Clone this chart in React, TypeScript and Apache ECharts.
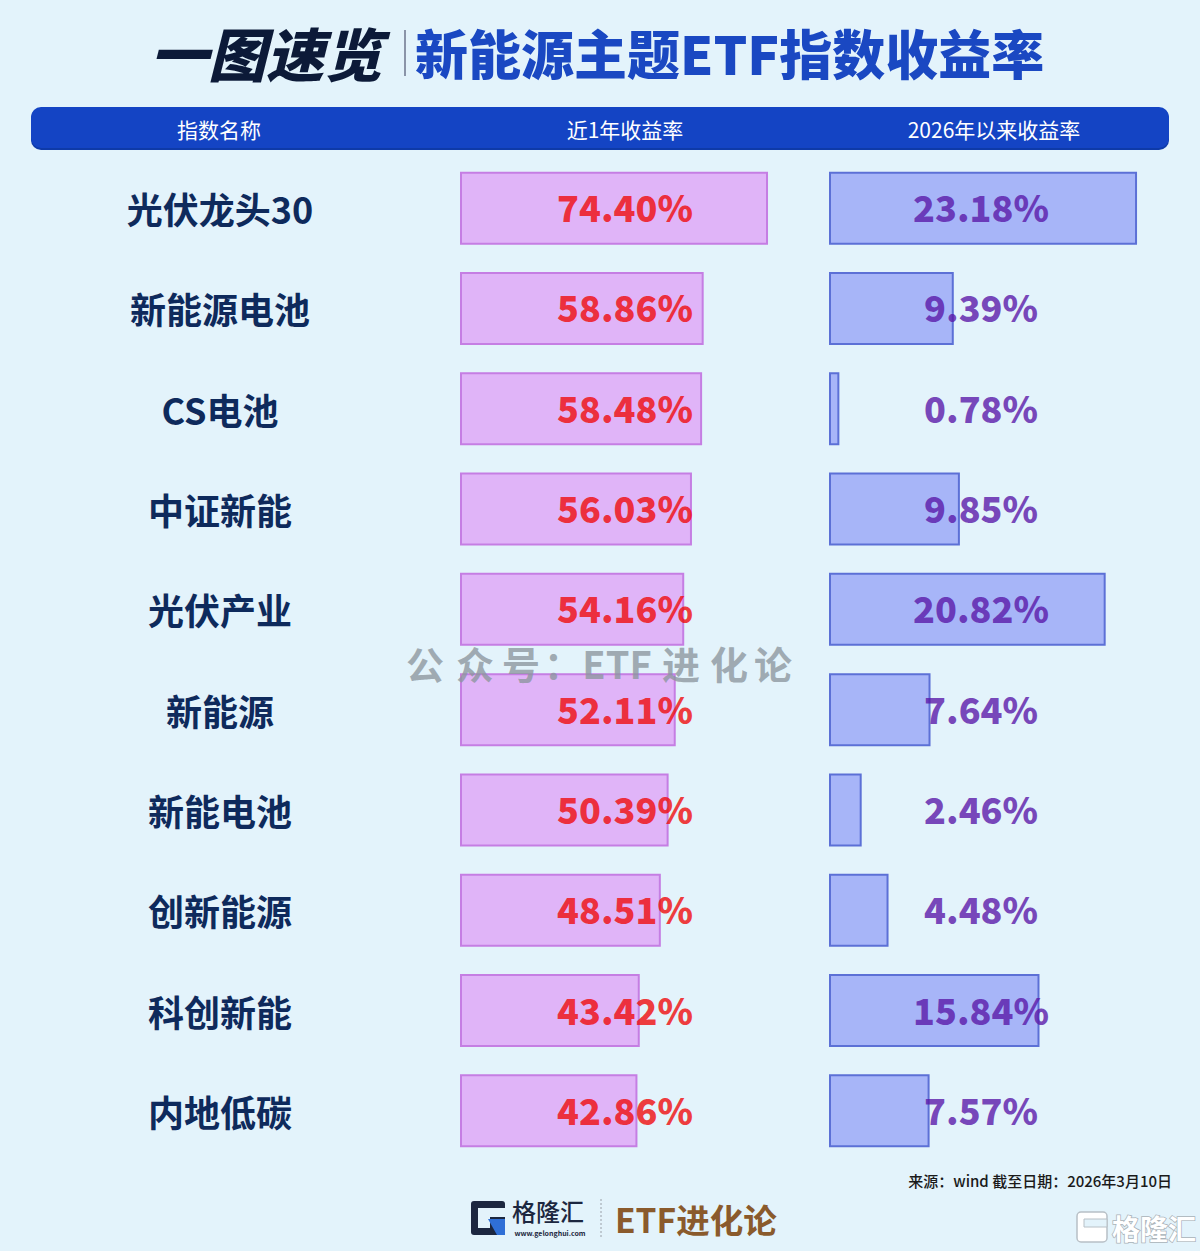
import React, { useEffect, useRef } from "react";
import * as echarts from "echarts";

const categories = ["光伏龙头30", "新能源电池", "CS电池", "中证新能", "光伏产业", "新能源", "新能电池", "创新能源", "科创新能", "内地低碳"];
const oneYearReturn = [74.4, 58.86, 58.48, 56.03, 54.16, 52.11, 50.39, 48.51, 43.42, 42.86];
const ytdReturn = [23.18, 9.39, 0.78, 9.85, 20.82, 7.64, 2.46, 4.48, 15.84, 7.57];
const headers = ["指数名称", "近1年收益率", "2026年以来收益率"];

const FONT = "'Noto Sans CJK SC', 'Noto Sans', sans-serif";

export default function App() {
  const ref = useRef<HTMLDivElement>(null);
  useEffect(() => {
    if (!ref.current) return;
    const chart = echarts.init(ref.current, null, { renderer: "svg" });
    const wm = ["公", "众", "号", "：", "ETF", "进", "化", "论"];
    const wmX = [425, 475, 521, 563, 617, 681, 729, 773];
    const wmEls = wm.map((ch, i) => ({
      type: "text",
      x: wmX[i],
      y: 662,
      z: 100,
      style: {
        text: ch,
        fontFamily: FONT,
        fontSize: 38,
        fontWeight: "bold",
        fill: "rgba(140,150,158,0.78)",
        align: "center",
        verticalAlign: "middle",
      },
    }));
    const headerX = [219, 625, 994];
    chart.setOption({
      animation: false,
      backgroundColor: "#e3f3fb",
      grid: [
        { left: 460, top: 158, width: 414, height: 1003 },
        { left: 829, top: 158, width: 358.8, height: 1003 },
      ],
      xAxis: [
        { gridIndex: 0, type: "value", min: 0, max: 100, show: false },
        { gridIndex: 1, type: "value", min: 0, max: 27, show: false },
      ],
      yAxis: [
        {
          gridIndex: 0,
          type: "category",
          data: categories,
          inverse: true,
          axisLine: { show: false },
          axisTick: { show: false },
          splitLine: { show: false },
          axisLabel: {
            margin: 240,
            align: "center",
            fontSize: 36,
            fontWeight: "bold",
            color: "#0e2a5c",
            fontFamily: FONT,
          },
        },
        { gridIndex: 1, type: "category", data: categories, inverse: true, show: false },
      ],
      series: [
        {
          type: "bar",
          xAxisIndex: 0,
          yAxisIndex: 0,
          data: oneYearReturn,
          barWidth: 73,
          itemStyle: { color: "#e0b4f8", borderColor: "#c57ee3", borderWidth: 2 },
        },
        {
          type: "bar",
          xAxisIndex: 1,
          yAxisIndex: 1,
          data: ytdReturn,
          barWidth: 73,
          itemStyle: { color: "#a7b5f8", borderColor: "#5c70d6", borderWidth: 2 },
        },
        {
          type: "scatter",
          xAxisIndex: 0,
          yAxisIndex: 0,
          symbolSize: 0,
          z: 5,
          data: categories.map((_, i) => [39.86, i]),
          label: {
            show: true,
            position: "inside",
            offset: [0, -2],
            formatter: (p: any) => oneYearReturn[p.dataIndex].toFixed(2) + "%",
            fontSize: 36,
            fontWeight: 900,
            color: "#f00a0a",
            fontFamily: FONT,
          },
        },
        {
          type: "scatter",
          xAxisIndex: 1,
          yAxisIndex: 1,
          symbolSize: 0,
          z: 5,
          data: categories.map((_, i) => [11.44, i]),
          label: {
            show: true,
            position: "inside",
            offset: [0, -2],
            formatter: (p: any) => ytdReturn[p.dataIndex].toFixed(2) + "%",
            fontSize: 36,
            fontWeight: 900,
            color: "#5a18a8",
            fontFamily: FONT,
          },
        },
      ],
      graphic: [
        {
          type: "text",
          x: 150,
          y: 52,
          style: {
            text: "一图速览",
            fontFamily: FONT,
            fontSize: 58,
            fontWeight: 900,
            fontStyle: "italic",
            fill: "#0c1a38",
            align: "left",
            verticalAlign: "middle",
          },
        },
        { type: "rect", shape: { x: 404, y: 30, width: 2, height: 46 }, style: { fill: "#8a94a8" } },
        {
          type: "text",
          x: 415,
          y: 52,
          style: {
            text: "新能源主题ETF指数收益率",
            fontFamily: FONT,
            fontSize: 53,
            fontWeight: 900,
            fill: "#1a48c2",
            align: "left",
            verticalAlign: "middle",
          },
        },
        {
          type: "rect",
          shape: { x: 31, y: 108, width: 1138, height: 42, r: 10 },
          style: { fill: "#0e3aa8" },
        },
        {
          type: "rect",
          shape: { x: 31, y: 107, width: 1138, height: 41, r: 10 },
          style: { fill: "#1444c4" },
        },
        ...headers.map((h, i) => ({
          type: "text",
          x: headerX[i],
          y: 129,
          style: {
            text: h,
            fontFamily: FONT,
            fontSize: 21,
            fill: "#ffffff",
            align: "center",
            verticalAlign: "middle",
          },
        })),
        ...wmEls,
        {
          type: "text",
          x: 1172,
          y: 1180,
          style: {
            text: "来源：wind 截至日期：2026年3月10日",
            fontFamily: FONT,
            fontSize: 15,
            fontWeight: 500,
            fill: "#1a1a1a",
            align: "right",
            verticalAlign: "middle",
          },
        },
        // bottom logo G
        { type: "rect", shape: { x: 471, y: 1201, width: 34, height: 34, r: 3 }, style: { fill: "#1c2740" } },
        { type: "rect", shape: { x: 478, y: 1208, width: 27, height: 9 }, style: { fill: "#e3f3fb" } },
        { type: "rect", shape: { x: 478, y: 1217, width: 12, height: 11 }, style: { fill: "#e3f3fb" } },
        { type: "polygon", shape: { points: [[488, 1219], [505, 1219], [505, 1235], [497, 1235]] }, style: { fill: "#2f6fd6" } },
        {
          type: "text",
          x: 512,
          y: 1210,
          style: { text: "格隆汇", fontFamily: FONT, fontSize: 24, fontWeight: 500, fill: "#1c2740", align: "left", verticalAlign: "middle" },
        },
        {
          type: "text",
          x: 550,
          y: 1233,
          style: { text: "www.gelonghui.com", fontFamily: FONT, fontSize: 7, fontWeight: "bold", fill: "#1c2740", align: "center", verticalAlign: "middle" },
        },
        { type: "line", shape: { x1: 601, y1: 1199, x2: 601, y2: 1238 }, style: { stroke: "#9aa0a8", lineWidth: 1, lineDash: [2, 2] } },
        {
          type: "text",
          x: 615,
          y: 1218,
          style: { text: "ETF进化论", fontFamily: FONT, fontSize: 33.5, fontWeight: "bold", fill: "#8a5a2c", align: "left", verticalAlign: "middle" },
        },
        // bottom-right watermark logo
        {
          type: "rect",
          shape: { x: 1077, y: 1212, width: 30, height: 30, r: 4 },
          style: { fill: "#ffffff", stroke: "#b8c0c6", lineWidth: 1.5 },
        },
        {
          type: "rect",
          shape: { x: 1084, y: 1219, width: 23, height: 8 },
          style: { fill: "#e3f3fb", stroke: "#b8c0c6", lineWidth: 1 },
        },
        {
          type: "text",
          x: 1112,
          y: 1228,
          style: { text: "格隆汇", fontFamily: FONT, fontSize: 28, fontWeight: "bold", fill: "#ffffff", stroke: "#aab2b8", lineWidth: 1.5, align: "left", verticalAlign: "middle" },
        },
      ],
    });
    return () => chart.dispose();
  }, []);
  return <div ref={ref} style={{ position: "fixed", left: 0, top: 0, width: 1200, height: 1251 }} />;
}
